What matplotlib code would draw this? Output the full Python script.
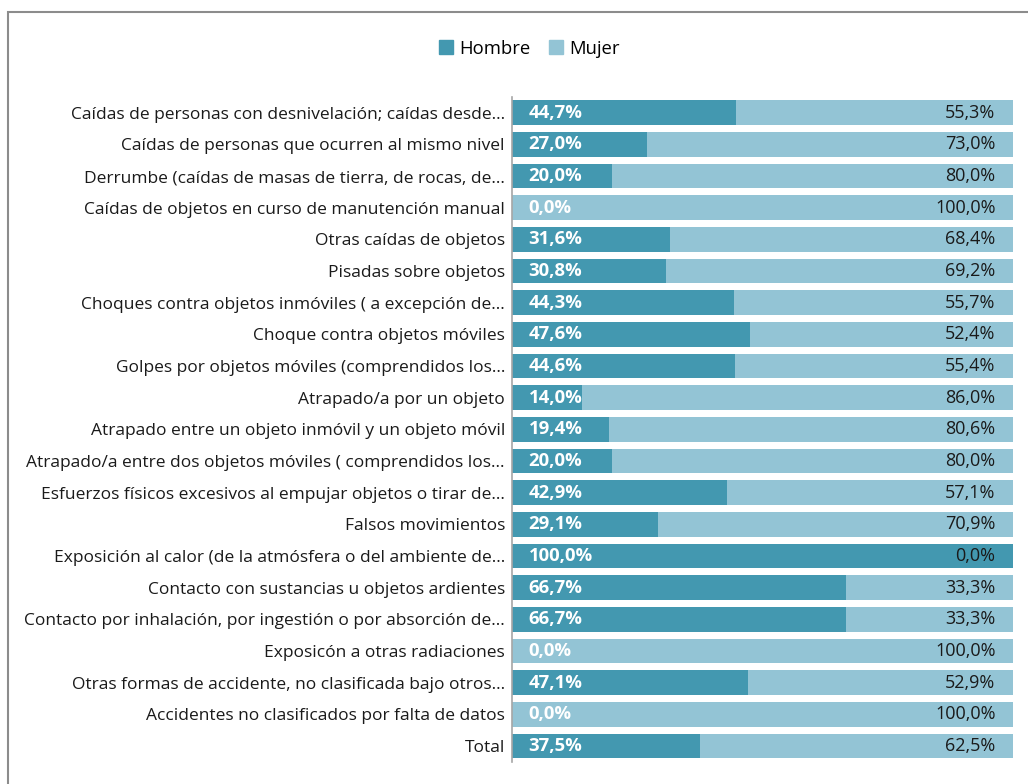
import numpy as np
import matplotlib.pyplot as plt
from matplotlib.patches import Rectangle, Patch

plt.rcParams['font.family'] = ['Open Sans', 'DejaVu Sans']

categorias = [
    "Caídas de personas con desnivelación; caídas desde…",
    "Caídas de personas que ocurren al mismo nivel",
    "Derrumbe (caídas de masas de tierra, de rocas, de…",
    "Caídas de objetos en curso de manutención manual",
    "Otras caídas de objetos",
    "Pisadas sobre objetos",
    "Choques contra objetos inmóviles ( a excepción de…",
    "Choque contra objetos móviles",
    "Golpes por objetos móviles (comprendidos los…",
    "Atrapado/a por un objeto",
    "Atrapado entre un objeto inmóvil y un objeto móvil",
    "Atrapado/a entre dos objetos móviles ( comprendidos los…",
    "Esfuerzos físicos excesivos al empujar objetos o tirar de…",
    "Falsos movimientos",
    "Exposición al calor (de la atmósfera o del ambiente de…",
    "Contacto con sustancias u objetos ardientes",
    "Contacto por inhalación, por ingestión o por absorción de…",
    "Exposicón a otras radiaciones",
    "Otras formas de accidente, no clasificada bajo otros…",
    "Accidentes no clasificados por falta de datos",
    "Total",
]
hombre = [44.7, 27.0, 20.0, 0.0, 31.6, 30.8, 44.3, 47.6, 44.6, 14.0, 19.4,
          20.0, 42.9, 29.1, 100.0, 66.7, 66.7, 0.0, 47.1, 0.0, 37.5]
mujer = [55.3, 73.0, 80.0, 100.0, 68.4, 69.2, 55.7, 52.4, 55.4, 86.0, 80.6,
         80.0, 57.1, 70.9, 0.0, 33.3, 33.3, 100.0, 52.9, 100.0, 62.5]

c_hombre = '#4398b0'
c_mujer = '#93c4d5'

def pct(v):
    return f"{v:.1f}%".replace('.', ',')

fig = plt.figure(figsize=(10.28, 7.84), dpi=100)
ax = fig.add_axes([0.498, 0.0281, 0.4874, 0.8482])

y = np.arange(len(categorias))
ax.barh(y, hombre, height=0.78, color=c_hombre)
ax.barh(y, mujer, left=hombre, height=0.78, color=c_mujer)

for i in range(len(categorias)):
    ax.text(3.3, i, pct(hombre[i]), color='white', fontweight='bold',
            fontsize=13.3, va='center', ha='left')
    ax.text(96.5, i, pct(mujer[i]), color='#1a1a1a',
            fontsize=13, va='center', ha='right')

ax.set_xlim(0, 100)
ax.set_ylim(len(categorias) - 0.5, -0.5)
ax.set_yticks(y)
ax.set_yticklabels(categorias, fontsize=12.5, color='#1a1a1a')
ax.tick_params(axis='y', length=0, pad=5)
ax.set_xticks([])
for s in ['top', 'right', 'bottom']:
    ax.spines[s].set_visible(False)
ax.spines['left'].set_color('#a6a6a6')
ax.spines['left'].set_linewidth(1.2)

handles = [Patch(color=c_hombre, label='Hombre'), Patch(color=c_mujer, label='Mujer')]
fig.legend(handles=handles, loc='center', bbox_to_anchor=(0.515, 0.938), ncol=2,
           frameon=False, fontsize=13.3, handlelength=0.75, handleheight=0.75,
           handletextpad=0.35, columnspacing=1.0)

# outer chart frame
fig.patches.append(Rectangle((8 / 1028, -0.1), 1.2, 1.1 - 12 / 784,
                             transform=fig.transFigure, fill=False,
                             edgecolor='#8c8c8c', linewidth=1.5))

fig.savefig('out.png', dpi=100)
